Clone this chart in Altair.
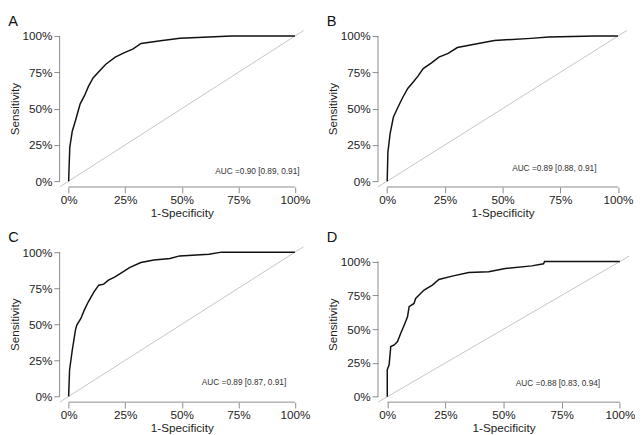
import altair as alt
import pandas as pd

# ---- data ----
panel_letters = ["A", "B", "C", "D"]

fpr_a = [0, 0.002, 0.005, 0.016, 0.031, 0.041, 0.051, 0.07, 0.088, 0.108, 0.134, 0.163, 0.206, 0.242, 0.285, 0.32, 0.406, 0.492, 0.62, 0.72, 1.0]
tpr_a = [0, 0.10, 0.233, 0.344, 0.422, 0.478, 0.533, 0.589, 0.655, 0.711, 0.755, 0.804, 0.855, 0.882, 0.911, 0.949, 0.967, 0.985, 0.993, 1.0, 1.0]

fpr_b = [0, 0.003, 0.013, 0.027, 0.046, 0.066, 0.089, 0.113, 0.135, 0.156, 0.192, 0.224, 0.264, 0.304, 0.378, 0.464, 0.622, 0.7, 0.9, 1.0]
tpr_b = [0, 0.2, 0.332, 0.442, 0.508, 0.573, 0.639, 0.684, 0.727, 0.776, 0.815, 0.855, 0.881, 0.921, 0.943, 0.969, 0.984, 0.993, 1.0, 1.0]

fpr_c = [0, 0.004, 0.016, 0.03, 0.036, 0.054, 0.069, 0.087, 0.112, 0.133, 0.155, 0.176, 0.205, 0.233, 0.269, 0.319, 0.377, 0.448, 0.491, 0.62, 0.676, 1.0]
tpr_c = [0, 0.183, 0.321, 0.46, 0.494, 0.54, 0.598, 0.656, 0.725, 0.771, 0.778, 0.806, 0.829, 0.857, 0.893, 0.928, 0.945, 0.956, 0.974, 0.986, 1.0, 1.0]

fpr_d = [0, 0, 0.008, 0.015, 0.03, 0.044, 0.058, 0.073, 0.087, 0.094, 0.115, 0.122, 0.158, 0.194, 0.222, 0.279, 0.35, 0.436, 0.507, 0.621, 0.672, 0.676, 1.0]
tpr_d = [0, 0.2, 0.236, 0.371, 0.383, 0.408, 0.469, 0.531, 0.592, 0.666, 0.69, 0.727, 0.789, 0.826, 0.867, 0.892, 0.919, 0.924, 0.948, 0.968, 0.983, 1.0, 1.0]

auc_labels = ["AUC =0.90 [0.89, 0.91]", "AUC =0.89 [0.88, 0.91]",
              "AUC =0.89 [0.87, 0.91]", "AUC =0.88 [0.83, 0.94]"]
auc_x = [0.834, 0.724, 0.775, 0.734]
auc_y = [0.067, 0.092, 0.10, 0.10]

tick_values = [0, 0.25, 0.5, 0.75, 1]
axis_min, axis_max = 0, 1
pad = 0.04  # R-style 4% range extension

FONT = "Liberation Sans"
AXIS_GREY = "#8a8a8a"


def make_panel(letter, fpr, tpr, label, lx, ly, width, height, ytop):
    xdom = [axis_min - pad, axis_max + pad]
    ydom = [axis_min - pad, ytop]
    xs = alt.Scale(domain=xdom, nice=False, zero=False)
    ys = alt.Scale(domain=ydom, nice=False, zero=False)
    common = dict(values=tick_values, format=".0%", domain=False, grid=False,
                  tickSize=6, tickColor=AXIS_GREY, labelPadding=2,
                  labelFontSize=12, titleFontSize=12, labelFont=FONT, titleFont=FONT,
                  titleFontWeight="normal", labelColor="#222", titleColor="#222",
                  labelFlush=False, labelOverlap=False)
    xax = alt.Axis(title="1-Specificity", titlePadding=2, **common)
    yax = alt.Axis(title="Sensitivity", titlePadding=1, **common)
    X = alt.X("fx:Q", scale=xs, axis=xax)
    Y = alt.Y("s:Q", scale=ys, axis=yax)

    roc = pd.DataFrame({"fx": fpr, "s": tpr, "i": list(range(len(fpr)))})
    diag = pd.DataFrame({"fx": xdom, "s": xdom, "i": [0, 1]})
    xline = pd.DataFrame({"fx": [axis_min], "fx2": [axis_max], "s": [axis_min - pad]})
    yline = pd.DataFrame({"fx": [axis_min - pad], "s": [axis_min], "s2": [axis_max]})
    txt = pd.DataFrame({"fx": [lx], "s": [ly], "label": [label]})

    diag_l = alt.Chart(diag).mark_line(color="#c4c4c4", strokeWidth=1, clip=True).encode(
        x=X, y=Y, order="i:Q")
    roc_l = alt.Chart(roc).mark_line(color="#111111", strokeWidth=1.5).encode(
        x=X, y=Y, order="i:Q")
    xl = alt.Chart(xline).mark_rule(color=AXIS_GREY, strokeWidth=1).encode(
        x=X, x2="fx2:Q", y=Y)
    yl = alt.Chart(yline).mark_rule(color=AXIS_GREY, strokeWidth=1).encode(
        x=X, y=Y, y2="s2:Q")
    tl = alt.Chart(txt).mark_text(font=FONT, fontSize=8.5, color="#333", align="center",
                                  baseline="middle").encode(x=X, y=Y, text="label:N")

    return alt.layer(diag_l, xl, yl, roc_l, tl).properties(
        width=width, height=height,
        title=alt.TitleParams(letter, anchor="start", frame="bounds", fontSize=15,
                              fontWeight="normal", font=FONT, color="#111", offset=1))


pA = make_panel(panel_letters[0], fpr_a, tpr_a, auc_labels[0], auc_x[0], auc_y[0], 251, 161, 1.04)
pB = make_panel(panel_letters[1], fpr_b, tpr_b, auc_labels[1], auc_x[1], auc_y[1], 256, 161, 1.04)
pC = make_panel(panel_letters[2], fpr_c, tpr_c, auc_labels[2], auc_x[2], auc_y[2], 251, 160, 1.04)
pD = make_panel(panel_letters[3], fpr_d, tpr_d, auc_labels[3], auc_x[3], auc_y[3], 258, 160, 1.112)

chart = alt.vconcat(
    alt.hconcat(pA, pB, spacing=16),
    alt.hconcat(pC, pD, spacing=16),
    spacing=12,
).properties(padding=0).configure_view(stroke=None).configure_axis(labelOverlap=False)

chart.save("out.html", embed_options={"renderer": "svg", "actions": False})
